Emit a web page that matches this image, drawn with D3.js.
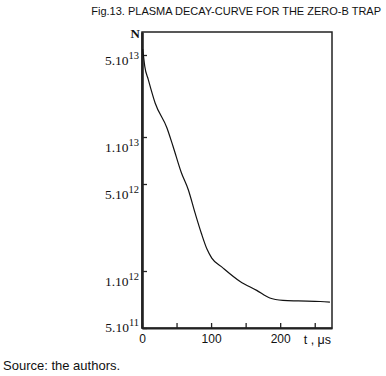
<!DOCTYPE html>
<html>
<head>
<meta charset="utf-8">
<script src="https://cdn.jsdelivr.net/npm/d3@7"></script>
<style>
body { margin: 0; background: #fff; }
svg { display: block; }
</style>
</head>
<body>
<div id="chart_wrapper"></div>
<script>
// values
var times = [1, 2, 4, 9, 19, 36, 45, 57, 67, 77, 86, 94, 101, 117, 142, 166, 185, 204, 226, 258, 272];
var counts = [5.6e13, 5.0e13, 4.0e13, 3.1e13, 1.95e13, 1.2e13, 8.7e12, 5.9e12, 4.5e12, 2.9e12, 2.0e12, 1.5e12, 1.27e12, 1.06e12, 8.8e11, 7.9e11, 7.2e11, 7.0e11, 6.95e11, 6.9e11, 6.85e11];
var yTicks = [5e13, 1e13, 5e12, 1e12, 5e11];
var xTicks = [0, 50, 100, 150, 200, 250];
var xLabels = {0: "0", 100: "100", 200: "200"};

var fullWidth = 386, fullHeight = 376,
    margin = {
        left: 142,
        right: 54,
        top: 32,
        bottom: 48
    };
var width = fullWidth - margin.left - margin.right;
var height = fullHeight - margin.top - margin.bottom;

var svg = d3.select("#chart_wrapper").append("svg").attr("width", fullWidth).attr("height", fullHeight);

svg.append("text").attr("x", 381).attr("y", 15).attr("text-anchor", "end")
    .style("font-family", "Liberation Sans, Arial, sans-serif").style("font-size", "11px")
    .attr("fill", "#111").text("Fig.13. PLASMA DECAY-CURVE FOR THE ZERO-B TRAP");

svg.append("text").attr("x", 3).attr("y", 370)
    .style("font-family", "Liberation Sans, Arial, sans-serif").style("font-size", "13px")
    .attr("fill", "#111").text("Source: the authors.");

var g = svg.append("g").attr("transform", "translate(" + margin.left + "," + margin.top + ")");

var x = d3.scaleLinear().domain([0, 275]).range([0, width]);
// the hand drawn axis is not evenly spaced, so the log scale is piecewise
var y = d3.scaleLog().domain([7.8e13, 5e13, 1e13, 5e12, 1e12, 5e11]).range([0, 23, 105, 152, 239, height]);

// frame
g.append("rect").attr("width", width).attr("height", height)
    .attr("fill", "none").attr("stroke", "#222").attr("stroke-width", 1.5);

// x axis, ticks pointing inward
var xAxis = g.append("g").attr("transform", "translate(0," + height + ")")
    .call(d3.axisBottom(x).tickValues(xTicks).tickSizeInner(-5).tickSizeOuter(0).tickPadding(6)
        .tickFormat(function(d) { return xLabels[d] || ""; }));
xAxis.select(".domain").attr("stroke", "#222").attr("stroke-width", 2.2);
xAxis.selectAll(".tick line").attr("stroke", "#222").attr("stroke-width", 1.3);
xAxis.selectAll(".tick text").attr("fill", "#111")
    .style("font-family", "Liberation Sans, Arial, sans-serif").style("font-size", "12px");

g.append("text").attr("x", x(250) - 11).attr("y", height + 16)
    .style("font-family", "Liberation Sans, Arial, sans-serif").style("font-size", "12.5px")
    .attr("fill", "#111").text("t , \u03bcs");

// y axis
var yAxis = g.append("g")
    .call(d3.axisLeft(y).tickValues(yTicks).tickSizeInner(-5).tickSizeOuter(0).tickFormat(""));
yAxis.select(".domain").attr("stroke", "#222").attr("stroke-width", 2.6);
yAxis.selectAll(".tick line").attr("stroke", "#222").attr("stroke-width", 1.3);

var labels = g.append("g").attr("class", "y_labels")
    .style("font-family", "Liberation Serif, Times New Roman, serif").attr("fill", "#111");
yTicks.forEach(function(v, i) {
    var exp = Math.floor(Math.log10(v));
    var mant = Math.round(v / Math.pow(10, exp));
    var dy = i === 0 ? 10 : (i === yTicks.length - 1 ? 4 : 15);
    var t = labels.append("text").attr("x", -3).attr("y", y(v) + dy).attr("text-anchor", "end")
        .style("font-size", "13.5px");
    t.append("tspan").text(mant + ".10");
    t.append("tspan").attr("dy", -6).style("font-size", "10.5px").text(exp);
});

g.append("text").attr("x", -2).attr("y", 6).attr("text-anchor", "end")
    .style("font-family", "Liberation Serif, Times New Roman, serif").style("font-size", "13px")
    .style("font-weight", "bold").attr("fill", "#111").text("N");

// decay curve
var data = times.map(function(t, i) { return {t: t, n: counts[i]}; });
var line = d3.line().x(function(d) { return x(d.t); }).y(function(d) { return y(d.n); })
    .curve(d3.curveMonotoneX);
g.append("path").datum(data).attr("d", line)
    .attr("fill", "none").attr("stroke", "#111").attr("stroke-width", 1.2);
</script>
</body>
</html>
